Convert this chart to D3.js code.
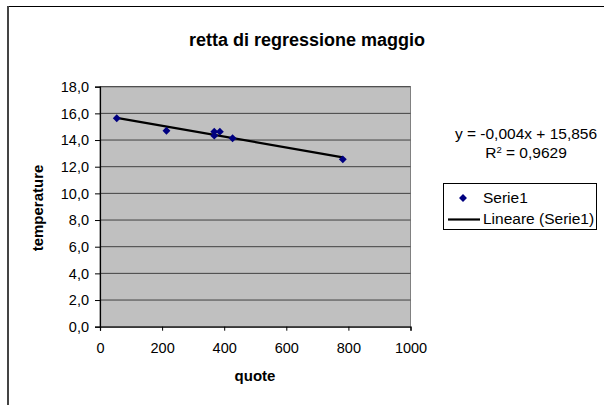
<!DOCTYPE html>
<html><head><meta charset="utf-8">
<script src="https://cdn.jsdelivr.net/npm/d3@7/dist/d3.min.js"></script>
<style>body{margin:0;background:#fff}svg{display:block}text{font-family:Arial,"Liberation Sans",sans-serif}</style>
</head><body>
<svg id="c" width="604" height="405"></svg>
<script>
const quote = [54, 214, 368, 386, 368, 427, 782];
const temperature = [15.63, 14.70, 14.63, 14.63, 14.33, 14.13, 12.55];
const xTicks = [0, 200, 400, 600, 800, 1000];
const yTicks = [0, 2, 4, 6, 8, 10, 12, 14, 16, 18];
const title = "retta di regressione maggio";
const equation = "y = -0,004x + 15,856";
const rSquared = "0,9629";

const svg = d3.select("#c");
const L = 100, R = 410.5, T = 86.7, B = 326.7;
const x = d3.scaleLinear().domain([0, 1000]).range([L, R]);
const y = d3.scaleLinear().domain([0, 18]).range([B, T]);

// outer chart frame
svg.append("rect").attr("x", 8).attr("y", 6.5).attr("width", 700).attr("height", 500)
  .attr("fill", "#fff").attr("stroke", "#000").attr("stroke-width", 1);
svg.append("line").attr("x1", 8).attr("x2", 8).attr("y1", 6).attr("y2", 405).attr("stroke", "#444").attr("stroke-width", 2);

svg.append("text").attr("x", 307).attr("y", 46).attr("text-anchor", "middle")
  .attr("font-weight", "bold").attr("font-size", 18).text(title);

// plot area
svg.append("rect").attr("x", L).attr("y", T).attr("width", R - L).attr("height", B - T)
  .attr("fill", "#c0c0c0").attr("stroke", "#808080").attr("stroke-width", 1);

svg.append("g").selectAll("line").data(yTicks.slice(1)).join("line")
  .attr("x1", L).attr("x2", R).attr("y1", d => y(d)).attr("y2", d => y(d))
  .attr("stroke", "#404040").attr("stroke-width", 1);

const fmt = d => d3.format(".1f")(d).replace(".", ",");
const yAxis = svg.append("g").attr("transform", `translate(${L},0)`)
  .call(d3.axisLeft(y).tickValues(yTicks).tickFormat(fmt).tickSize(5).tickPadding(6));
const xAxis = svg.append("g").attr("transform", `translate(0,${B})`)
  .call(d3.axisBottom(x).tickValues(xTicks).tickFormat(d3.format("d")).tickSize(4).tickPadding(12));
[yAxis, xAxis].forEach(g => {
  g.select(".domain").attr("stroke", "#000").attr("stroke-width", 1.2);
  g.selectAll(".tick line").attr("stroke", "#000");
  g.selectAll("text").attr("font-size", 14.5).attr("fill", "#000").attr("font-family", "Arial, 'Liberation Sans', sans-serif");
});

svg.append("text").attr("x", 255).attr("y", 381).attr("text-anchor", "middle")
  .attr("font-weight", "bold").attr("font-size", 15).text("quote");
svg.append("text").attr("transform", "translate(43,208) rotate(-90)").attr("text-anchor", "middle")
  .attr("font-weight", "bold").attr("font-size", 15).text("temperature");

// regression
const mx = d3.mean(quote), my = d3.mean(temperature);
const slope = d3.sum(quote, (v, i) => (v - mx) * (temperature[i] - my)) / d3.sum(quote, v => (v - mx) ** 2);
const icpt = my - slope * mx;
const [x0, x1] = d3.extent(quote);
svg.append("line").attr("x1", x(x0)).attr("y1", y(icpt + slope * x0))
  .attr("x2", x(x1)).attr("y2", y(icpt + slope * x1))
  .attr("stroke", "#000").attr("stroke-width", 2.2);

const diamond = d3.symbol().type(d3.symbolDiamond2).size(40);
svg.append("g").selectAll("path").data(quote).join("path")
  .attr("transform", (d, i) => `translate(${x(d)},${y(temperature[i])})`)
  .attr("d", diamond).attr("fill", "#000080");

// equation
svg.append("text").attr("x", 526).attr("y", 139).attr("text-anchor", "middle").attr("font-size", 15.5).text(equation);
const r2 = svg.append("text").attr("x", 526).attr("y", 158).attr("text-anchor", "middle").attr("font-size", 15.5);
r2.append("tspan").text("R");
r2.append("tspan").attr("dy", -5).attr("font-size", 9.5).text("2");
r2.append("tspan").attr("dy", 5).text(" = " + rSquared);

// legend
svg.append("rect").attr("x", 443.5).attr("y", 183.5).attr("width", 153).attr("height", 46)
  .attr("fill", "#fff").attr("stroke", "#000").attr("stroke-width", 1);
svg.append("path").attr("d", diamond).attr("transform", "translate(463,198)").attr("fill", "#000080");
svg.append("text").attr("x", 483).attr("y", 203).attr("font-size", 15.5).text("Serie1");
svg.append("line").attr("x1", 448).attr("x2", 480).attr("y1", 219.5).attr("y2", 219.5).attr("stroke", "#000").attr("stroke-width", 2.2);
svg.append("text").attr("x", 483).attr("y", 224).attr("font-size", 15.5).text("Lineare (Serie1)");
</script>
</body></html>
